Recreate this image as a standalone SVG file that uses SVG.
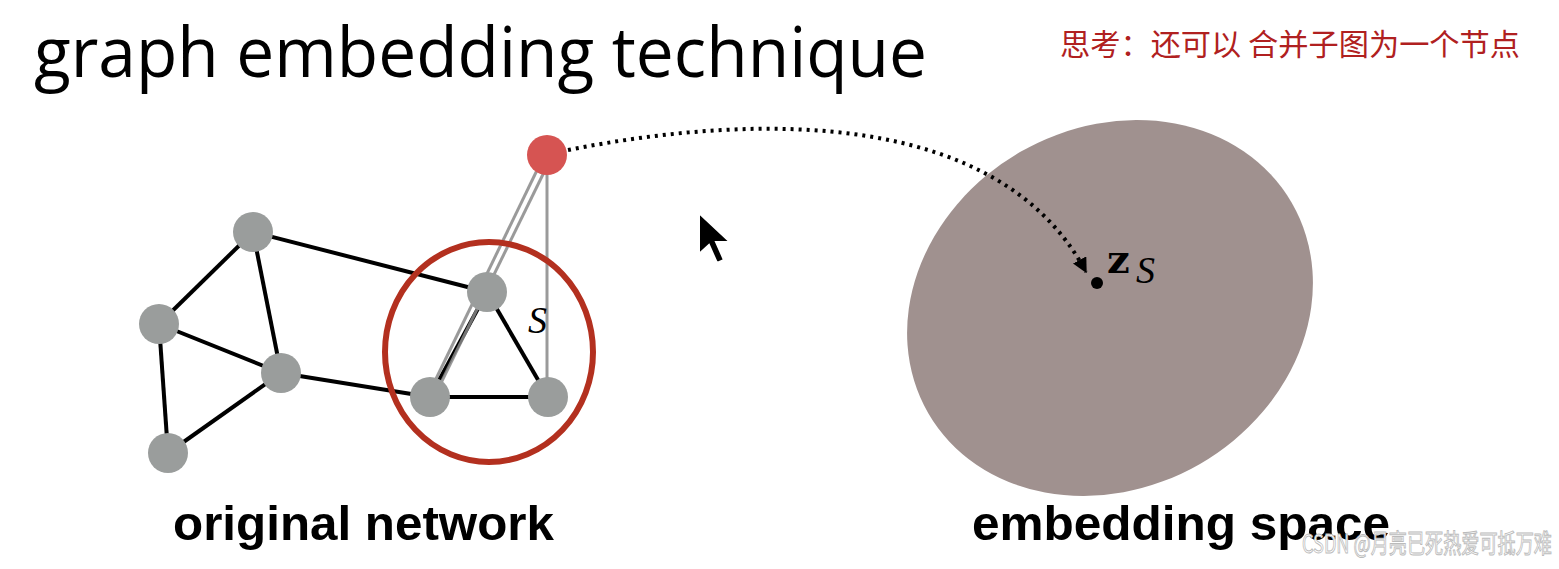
<svg xmlns="http://www.w3.org/2000/svg" width="1559" height="569" viewBox="0 0 1559 569">
<style>
.node{fill:#9a9d9c}
.edge{stroke:#000;stroke-width:4;fill:none}
.gedge{stroke:#888;stroke-width:3;fill:none;opacity:0.85}
.lbl{font-family:"Liberation Sans",Arial,sans-serif;font-weight:bold;font-size:48px;fill:#000}
</style>
<defs>
<marker id="ah" viewBox="0 0 10 10" refX="9" refY="5" markerWidth="3.8" markerHeight="3.8" orient="auto" markerUnits="strokeWidth">
<path d="M0,0 L10,5 L0,10 z" fill="#000"/>
</marker>
</defs>
<rect width="1559" height="569" fill="#fff"/>
<text x="34" y="77" font-family="'Open Sans',sans-serif" font-size="70" fill="#000" textLength="893" lengthAdjust="spacingAndGlyphs">graph embedding technique</text>
<text x="1060" y="55" font-family="'Noto Sans CJK SC',sans-serif" font-size="30" fill="#b02020" textLength="460" lengthAdjust="spacingAndGlyphs">思考：还可以 合并子图为一个节点</text>
<g id="embedding-space">
<ellipse cx="1110" cy="308" rx="210" ry="180" transform="rotate(-30 1110 308)" fill="#a0918f"/>
</g>
<g id="connectors">
<line class="edge" x1="253" y1="232" x2="159" y2="324"/>
<line class="edge" x1="253" y1="232" x2="281" y2="373"/>
<line class="edge" x1="253" y1="232" x2="487" y2="292"/>
<line class="edge" x1="159" y1="324" x2="281" y2="373"/>
<line class="edge" x1="159" y1="324" x2="168" y2="453"/>
<line class="edge" x1="281" y1="373" x2="168" y2="453"/>
<line class="edge" x1="281" y1="373" x2="430" y2="397"/>
<line class="edge" x1="487" y1="292" x2="430" y2="397"/>
<line class="edge" x1="487" y1="292" x2="548" y2="397"/>
<line class="edge" x1="430" y1="397" x2="548" y2="397"/>
<line class="gedge" x1="541" y1="162" x2="434" y2="383"/>
<line class="gedge" x1="549" y1="162" x2="440" y2="385"/>
<line class="gedge" x1="547" y1="160" x2="547" y2="390"/>
<path d="M568,150 C760,112 1000,110 1086,272" fill="none" stroke="#000" stroke-width="4" stroke-dasharray="3 5" marker-end="url(#ah)"/>
</g>
<g id="node-a"><circle class="node" cx="253" cy="232" r="20"/></g>
<g id="node-b"><circle class="node" cx="159" cy="324" r="20"/></g>
<g id="node-c"><circle class="node" cx="281" cy="373" r="20"/></g>
<g id="node-d"><circle class="node" cx="168" cy="453" r="20"/></g>
<g id="node-e"><circle class="node" cx="487" cy="292" r="20"/></g>
<g id="node-f"><circle class="node" cx="430" cy="397" r="20"/></g>
<g id="node-g"><circle class="node" cx="548" cy="397" r="20"/></g>
<g id="subgraph-circle"><ellipse cx="489" cy="352" rx="104" ry="110" fill="none" stroke="#b3301f" stroke-width="6"/></g>
<g id="node-red"><circle cx="547" cy="155" r="20" fill="#d65452"/></g>
<text x="528" y="333" font-family="'Liberation Serif',serif" font-style="italic" font-size="38" fill="#000">S</text>
<g id="z-point">
<circle cx="1097" cy="283" r="6" fill="#000"/>
<text x="1107" y="273" font-family="'DejaVu Serif',serif" font-weight="bold" font-size="40" fill="#000">z</text>
<text x="1136" y="283" font-family="'Liberation Serif',serif" font-style="italic" font-size="38" fill="#000">S</text>
</g>
<g id="cursor">
<path d="M699,213 L699,254 L709,245 L717,263 L724,260 L716,242 L730,242 Z" fill="#000" stroke="#fff" stroke-width="2"/>
</g>
<text class="lbl" x="173" y="540" textLength="381" lengthAdjust="spacingAndGlyphs">original network</text>
<text class="lbl" x="972" y="540" textLength="418" lengthAdjust="spacingAndGlyphs">embedding space</text>
<text x="1302" y="553" font-family="'Noto Sans CJK SC',sans-serif" font-size="26" fill="#fff" stroke="#bbb" stroke-width="1" textLength="250" lengthAdjust="spacingAndGlyphs">CSDN @月亮已死热爱可抵万难</text>
</svg>
